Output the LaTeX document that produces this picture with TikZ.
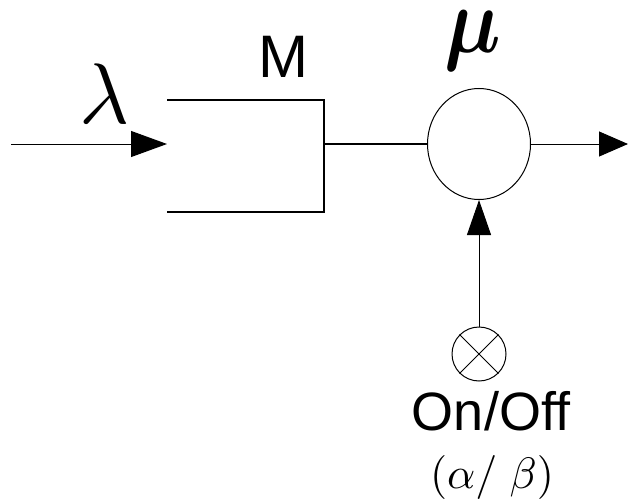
\documentclass[tikz,border=0pt]{standalone}
\usepackage{amsmath}
\usepackage{fontspec}
\setsansfont{Liberation Sans}
\usetikzlibrary{arrows.meta,positioning,shapes.geometric}

\tikzset{
  thin line/.style={line width=1pt},
  thick line/.style={line width=2pt},
  bigarrow/.style={-{Triangle[length=36pt,width=26pt]}},
  server/.style={ellipse, draw, line width=1pt, minimum width=103pt, minimum height=111pt, inner sep=0pt},
  switch/.style={circle, draw, line width=1pt, minimum size=54pt, inner sep=0pt},
  lbl/.style={inner sep=0pt, font=\sffamily},
}

\begin{document}
\begin{tikzpicture}[x=1pt,y=-1pt]
  \useasboundingbox (0,0) rectangle (628,500);
  % Nodes
  \coordinate (src) at (11,144) ; %
  \coordinate (qin) at (167,144) ; %
  \coordinate (qtl) at (167,100) ; %
  \coordinate (qtr) at (324,100) ; %
  \coordinate (qbr) at (324,212) ; %
  \coordinate (qbl) at (167,212) ; %
  \coordinate (qout) at (324,144) ; %
  \node[server] (mu) at (479,144) {} ; %
  \coordinate (sink) at (628,144) ; %
  \node[switch] (onoff) at (479,354) {} ; %
  % Labels
  \node[lbl, scale=8.6] (lambda) at (105,94) {$\lambda$} ; %
  \node[lbl, scale=6] (M) at (283,57) {M} ; %
  \node[lbl, xscale=8, yscale=9.4] (mulbl) at (473,41) {$\boldsymbol{\mu}$} ; %
  \node[lbl, scale=5.4] (onofflbl) at (491,411) {On/Off} ; %
  \node[lbl, scale=4.4] (rates) at (492,477) {$(\alpha/\;\beta)$} ; %
  % Queue
  \draw[thick line] (qtl) -- (qtr) -- (qbr) -- (qbl) ; %
  % Edges
  \draw[thin line, bigarrow] (src) -- (qin) ; %
  \draw[thick line] (qout) -- (mu.west) ; %
  \draw[thin line, -{Triangle[length=29pt,width=25pt]}] (mu.east) -- (sink) ; %
  \draw[thin line, -{Triangle[length=35pt,width=24pt]}] (onoff.north) -- (mu.south) ; %
  \draw[thin line] (onoff.45) -- (onoff.225) (onoff.135) -- (onoff.315) ; %
\end{tikzpicture}
\end{document}
